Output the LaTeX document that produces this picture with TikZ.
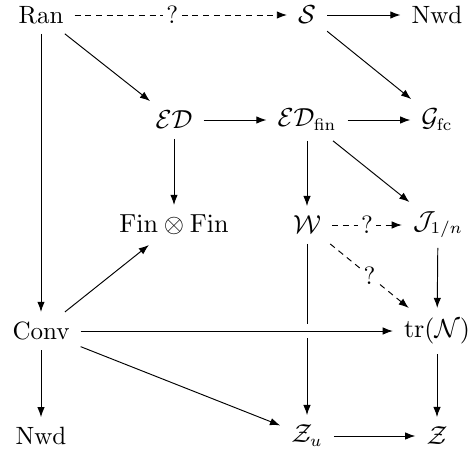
\documentclass[tikz,border=0pt]{standalone}
\usepackage{amsmath, amssymb}
\usepackage{tikz}
\usetikzlibrary{arrows.meta, positioning}

\begin{document}
\begin{tikzpicture}[x=0.42pt, y=-0.42pt,
    font=\fontsize{10.5}{12}\selectfont,
    obj/.style={inner xsep=4.5pt, inner ysep=4pt},
    map/.style={-{Latex[length=1.5mm, width=1.1mm]}},
    maybe/.style={map, dash pattern=on 2.5pt off 2pt},
    qmark/.style={fill=white, inner sep=1.5pt},
    over/.style={preaction={draw=white, line width=6pt, -}}]
    \useasboundingbox (0,0) rectangle (469,458);
    % top row
    \node[obj] (ran) at (41,15) {Ran};
    \node[obj] (s) at (307,15) {$\mathcal{S}$};
    \node[obj] (nwdtop) at (437,15) {Nwd};
    % second row
    \node[obj] (ed) at (174,120) {$\mathcal{E}\mathcal{D}$};
    \node[obj] (edfin) at (307,120) {$\mathcal{E}\mathcal{D}_{\mathrm{fin}}$};
    \node[obj] (gfc) at (437,120) {$\mathcal{G}_{\mathrm{fc}}$};
    % third row
    \node[obj] (finfin) at (174,225) {$\mathrm{Fin}\otimes\mathrm{Fin}$};
    \node[obj] (w) at (307,225) {$\mathcal{W}$};
    \node[obj] (j) at (438,225) {$\mathcal{J}_{1/n}$};
    % fourth row
    \node[obj] (conv) at (41,331) {Conv};
    \node[obj] (trn) at (437,331) {$\mathrm{tr}(\mathcal{N})$};
    % bottom row
    \node[obj] (nwdbot) at (41,436) {Nwd};
    \node[obj] (zu) at (307,436) {$\mathcal{Z}_u$};
    \node[obj] (z) at (437,436) {$\mathcal{Z}$};
    % open questions
    \draw[maybe] (ran) -- node[qmark, pos=0.46] {?} (s);
    \draw[maybe] (w) -- node[qmark] {?} (j);
    \draw[maybe] (w) -- node[qmark] {?} (trn);
    % known maps
    \draw[map] (s) -- (nwdtop);
    \draw[map] (s) -- (gfc);
    \draw[map] (ran) -- (ed);
    \draw[map] (ran) -- (conv);
    \draw[map] (ed) -- (edfin);
    \draw[map] (edfin) -- (gfc);
    \draw[map] (ed) -- (finfin);
    \draw[map] (edfin) -- (w);
    \draw[map] (edfin) -- (j);
    \draw[map] (j) -- (trn);
    \draw[map] (w) -- (zu);
    \draw[map] (conv) -- (finfin);
    \draw[map, over] (conv) -- (trn);
    \draw[map] (conv) -- (nwdbot);
    \draw[map] (conv) -- (zu);
    \draw[map] (trn) -- (z);
    \draw[map] (zu) -- (z);
\end{tikzpicture}
\end{document}
